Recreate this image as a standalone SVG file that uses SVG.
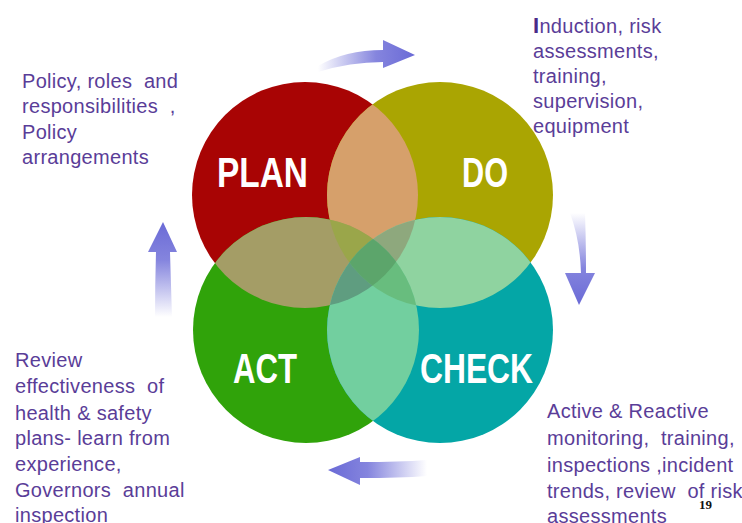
<svg xmlns="http://www.w3.org/2000/svg" width="742" height="523" viewBox="0 0 742 523">
<style>
.lbl{font-family:"Liberation Sans",Arial,sans-serif;font-size:20px;fill:#5a3d98;white-space:pre;letter-spacing:0.3px}
.big{font-family:"Liberation Sans",Arial,sans-serif;font-weight:bold;fill:#ffffff;font-size:42px}
</style>
<defs>
<clipPath id="cP"><circle cx="305" cy="195" r="113"/></clipPath>
<clipPath id="cD"><circle cx="440" cy="195" r="113"/></clipPath>
<clipPath id="cA"><circle cx="306" cy="330" r="113"/></clipPath>
<clipPath id="cC"><circle cx="440" cy="330" r="113"/></clipPath>
<linearGradient id="gR" x1="0" y1="0" x2="1" y2="0"><stop offset="0" stop-color="#6f6fd8" stop-opacity="0"/><stop offset="0.6" stop-color="#6f6fd8" stop-opacity="0.85"/><stop offset="1" stop-color="#6a6ad6"/></linearGradient>
<linearGradient id="gL" x1="1" y1="0" x2="0" y2="0"><stop offset="0" stop-color="#6f6fd8" stop-opacity="0"/><stop offset="0.6" stop-color="#6f6fd8" stop-opacity="0.85"/><stop offset="1" stop-color="#6a6ad6"/></linearGradient>
<linearGradient id="gU" x1="0" y1="1" x2="0" y2="0"><stop offset="0" stop-color="#6f6fd8" stop-opacity="0"/><stop offset="0.6" stop-color="#6f6fd8" stop-opacity="0.85"/><stop offset="1" stop-color="#6a6ad6"/></linearGradient>
<linearGradient id="gD" x1="0" y1="0" x2="0" y2="1"><stop offset="0" stop-color="#6f6fd8" stop-opacity="0"/><stop offset="0.6" stop-color="#6f6fd8" stop-opacity="0.85"/><stop offset="1" stop-color="#6a6ad6"/></linearGradient>
</defs>
<rect width="742" height="523" fill="#ffffff"/>
<g id="circles">
<circle cx="305" cy="195" r="113" fill="#a80404"/>
<circle cx="440" cy="195" r="113" fill="#aaa502"/>
<circle cx="306" cy="330" r="113" fill="#30a30a"/>
<circle cx="440" cy="330" r="113" fill="#04a6a6"/>
<g clip-path="url(#cP)"><circle cx="440" cy="195" r="113" fill="#d6a06b"/><circle cx="306" cy="330" r="113" fill="#a49d66"/></g>
<g clip-path="url(#cC)"><circle cx="440" cy="195" r="113" fill="#8fd3a0"/><circle cx="306" cy="330" r="113" fill="#72cf9f"/></g>
<g clip-path="url(#cP)"><g clip-path="url(#cD)"><circle cx="306" cy="330" r="113" fill="#9aa64a"/><circle cx="440" cy="330" r="113" fill="#8ea87d"/></g></g>
<g clip-path="url(#cA)"><g clip-path="url(#cC)"><circle cx="305" cy="195" r="113" fill="#5f9d80"/><circle cx="440" cy="195" r="113" fill="#68bd7e"/></g></g>
<g clip-path="url(#cP)"><g clip-path="url(#cD)"><g clip-path="url(#cA)"><circle cx="440" cy="330" r="113" fill="#5ca56b"/></g></g></g>
</g>
<g id="plan"><text class="big" x="217" y="187" textLength="91" lengthAdjust="spacingAndGlyphs">PLAN</text></g>
<g id="do"><text class="big" x="462" y="187" textLength="46" lengthAdjust="spacingAndGlyphs">DO</text></g>
<g id="act"><text class="big" x="233" y="383" textLength="64" lengthAdjust="spacingAndGlyphs">ACT</text></g>
<g id="check"><text class="big" x="420" y="383" textLength="113" lengthAdjust="spacingAndGlyphs">CHECK</text></g>
<g id="connectors">
<path d="M318,66 Q345,50 383,50 L383,40 L415,55 L383,68 L383,62 Q350,62 318,72 Z" fill="url(#gR)"/>
<path d="M570,213 Q580,240 581,273 L565,273 L579,305 L595,273 L586,273 Q586,240 585,213 Z" fill="url(#gD)"/>
<path d="M427,460 Q400,462 360,462 L360,457 L328,470 L360,485 L360,478 Q400,478 427,476 Z" fill="url(#gL)"/>
<path d="M155,317 Q155,285 156,252 L148,252 L163,222 L177,252 L170,252 Q171,285 172,317 Z" fill="url(#gU)"/>
</g>
<g id="text-plan">
<text class="lbl" x="22" y="88">Policy, roles  and</text>
<text class="lbl" x="22" y="113">responsibilities  ,</text>
<text class="lbl" x="22" y="139">Policy</text>
<text class="lbl" x="22" y="164">arrangements</text>
</g>
<g id="text-do">
<text class="lbl" x="533" y="33"><tspan font-weight="bold" font-size="22" fill="#4a2a88">I</tspan>nduction, risk</text>
<text class="lbl" x="533" y="58">assessments,</text>
<text class="lbl" x="533" y="83">training,</text>
<text class="lbl" x="533" y="108">supervision,</text>
<text class="lbl" x="533" y="133">equipment</text>
</g>
<g id="text-act">
<text class="lbl" x="15" y="367">Review</text>
<text class="lbl" x="15" y="393">effectiveness  of</text>
<text class="lbl" x="15" y="420">health &amp; safety</text>
<text class="lbl" x="15" y="445">plans- learn from</text>
<text class="lbl" x="15" y="471">experience,</text>
<text class="lbl" x="15" y="497">Governors  annual</text>
<text class="lbl" x="15" y="522">inspection</text>
</g>
<g id="text-check">
<text class="lbl" x="547" y="418">Active &amp; Reactive</text>
<text class="lbl" x="547" y="445">monitoring,  training,</text>
<text class="lbl" x="547" y="472">inspections ,incident</text>
<text class="lbl" x="547" y="498">trends, review  of risk</text>
<text class="lbl" x="547" y="523">assessments</text>
</g>
<text x="699" y="509" font-family="Liberation Serif,serif" font-weight="bold" font-size="13" fill="#111111">19</text>
</svg>
